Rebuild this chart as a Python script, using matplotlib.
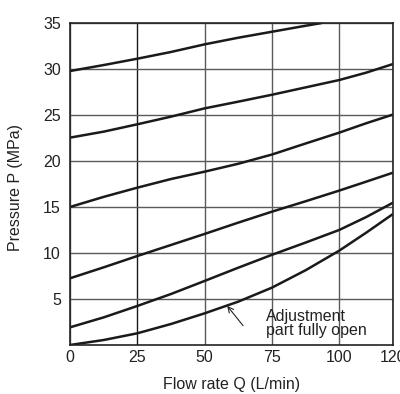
import matplotlib.pyplot as plt

plt.rcParams["font.family"] = ["Liberation Sans", "DejaVu Sans"]

# Pressure curves (Q in L/min, P in MPa)
flow = [0, 12.5, 25, 37.5, 50, 62.5, 75, 87.5, 100, 110, 120]
flow_top = [0, 12.5, 25, 37.5, 50, 62.5, 75, 87.5, 93.5]
p_top = [29.78, 30.43, 31.12, 31.85, 32.68, 33.4, 34.05, 34.7, 35.0]
p_2 = [22.54, 23.19, 23.99, 24.82, 25.72, 26.45, 27.2, 28.0, 28.8, 29.6, 30.54]
p_3 = [15.0, 16.1, 17.1, 18.04, 18.84, 19.7, 20.7, 21.9, 23.08, 24.1, 25.05]
p_4 = [7.25, 8.44, 9.67, 10.87, 12.07, 13.3, 14.49, 15.62, 16.78, 17.75, 18.73]
p_5 = [1.92, 3.0, 4.24, 5.54, 6.96, 8.4, 9.8, 11.13, 12.5, 13.9, 15.47]
p_open = [0.0, 0.54, 1.27, 2.28, 3.44, 4.71, 6.23, 8.12, 10.25, 12.2, 14.24]

x_ticks = [0, 25, 50, 75, 100, 120]
y_ticks = [5, 10, 15, 20, 25, 30, 35]

fig = plt.figure(figsize=(4.0, 3.94), dpi=100)
ax = fig.add_axes([0.175, 0.1244, 0.8075, 0.8172])

for ys in [p_2, p_3, p_4, p_5, p_open]:
    ax.plot(flow, ys, color="#1a1a1a", lw=1.8, solid_capstyle="butt")
ax.plot(flow_top, p_top, color="#1a1a1a", lw=1.8, solid_capstyle="butt")

ax.set_xlim(0, 120)
ax.set_ylim(0, 35)
ax.set_xticks(x_ticks)
ax.set_yticks(y_ticks)
ax.tick_params(length=0, labelsize=11.5, colors="#222222")
ax.tick_params(axis="x", pad=3.5)
ax.tick_params(axis="y", pad=6.5)
ax.grid(True, color="#5a5a5a", lw=1.0)
# the 25 L/min line is printed darker in the original
ax.get_xgridlines()[1].set_color("#1a1a1a")
for s in ax.spines.values():
    s.set_color("#222222")
    s.set_linewidth(1.2)

ax.set_xlabel("Flow rate Q (L/min)", fontsize=11.5, color="#222222")
ax.xaxis.set_label_coords(0.5, -0.098)
ax.set_ylabel("Pressure P (MPa)", fontsize=11.5, color="#222222", va="center")
ax.yaxis.set_label_coords(-0.17, 0.49)

ax.annotate("", xy=(58.4, 4.25), xytext=(64.3, 2.1),
            arrowprops=dict(arrowstyle="->", lw=0.8, color="#222222",
                            shrinkA=0, shrinkB=0))
ax.text(72.7, 3.9, "Adjustment\npart fully open", fontsize=11.5,
        va="top", ha="left", color="#222222", linespacing=0.9)

fig.savefig("out.png", dpi=100)
